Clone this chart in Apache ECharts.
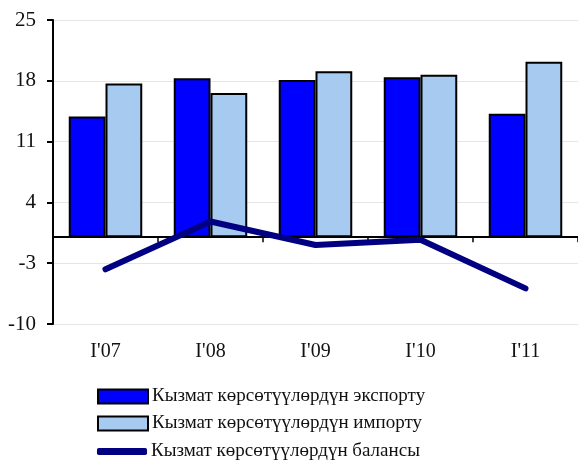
<!DOCTYPE html>
<html>
<head>
<meta charset="utf-8">
<script src="https://cdn.jsdelivr.net/npm/echarts@6/dist/echarts.min.js"></script>
<style>html,body{margin:0;padding:0;background:#fff}#c{width:578px;height:466px}</style>
</head>
<body>
<div id="c"></div>
<script>
const categories = ["I'07", "I'08", "I'09", "I'10", "I'11"];
const exportValues = [13.9, 18.3, 18.1, 18.4, 14.2];
const importValues = [17.7, 16.6, 19.1, 18.7, 20.2];
const balanceValues = [-3.7, 1.8, -0.9, -0.3, -5.9];
const yTicks = {min: -10, max: 25, interval: 7};
const names = ["Кызмат көрсөтүүлөрдүн экспорту", "Кызмат көрсөтүүлөрдүн импорту", "Кызмат көрсөтүүлөрдүн балансы"];

const font = "'Liberation Serif', 'Times New Roman', serif";
const chart = echarts.init(document.getElementById('c'), null, {renderer: 'canvas'});
chart.setOption({
  animation: false,
  backgroundColor: '#fff',
  grid: {left: 53, right: 0, top: 20, bottom: 142, containLabel: false},
  legend: [
    {
      orient: 'vertical', left: 92, top: 382, itemWidth: 50, itemHeight: 14, itemGap: 8,
      icon: 'rect', data: [names[0], names[1]],
      textStyle: {fontFamily: font, fontSize: 19, color: '#111', lineHeight: 18, padding: [0,0,0,-1]}
    },
    {
      orient: 'vertical', left: 92, top: 437, itemWidth: 50, itemHeight: 7, itemGap: 9,
      data: [{name: names[2], icon: 'roundRect'}],
      textStyle: {fontFamily: font, fontSize: 19, color: '#111', lineHeight: 18, padding: [0,0,0,-1]}
    }
  ],
  xAxis: [
    {
      type: 'category', data: categories, position: 'bottom',
      axisLine: {onZero: true, lineStyle: {color: '#000', width: 2}},
      axisTick: {show: true, length: 5, lineStyle: {color: '#000', width: 1.5}},
      axisLabel: {show: false}, splitLine: {show: false}, z: 1
    },
    {
      type: 'category', data: categories, position: 'bottom',
      axisLine: {show: false, onZero: false}, axisTick: {show: false},
      axisLabel: {show: true, margin: 18, fontFamily: font, fontSize: 20, color: '#111'},
      splitLine: {show: false}
    }
  ],
  yAxis: {
    type: 'value', min: yTicks.min, max: yTicks.max, interval: yTicks.interval,
    axisLine: {show: true, onZero: false, lineStyle: {color: '#000', width: 2}},
    axisTick: {show: true, length: 6, lineStyle: {color: '#000', width: 2}},
    axisLabel: {margin: 17, fontFamily: font, fontSize: 21, color: '#111'},
    splitLine: {show: true, lineStyle: {color: '#e6e6e6', width: 1}}
  },
  series: [
    {
      name: names[0], type: 'bar', data: exportValues, xAxisIndex: 0,
      barGap: '0%', barCategoryGap: '30%',
      itemStyle: {color: '#0000ff', borderColor: '#000', borderWidth: 2}
    },
    {
      name: names[1], type: 'bar', data: importValues, xAxisIndex: 0,
      barGap: '0%', barCategoryGap: '30%',
      itemStyle: {color: '#a6caf0', borderColor: '#000', borderWidth: 2}
    },
    {
      name: names[2], type: 'line', data: balanceValues, xAxisIndex: 0,
      symbol: 'none', z: 5,
      itemStyle: {color: '#000080'},
      lineStyle: {color: '#000080', width: 6, cap: 'round', join: 'round'}
    }
  ]
});
</script>
</body>
</html>
